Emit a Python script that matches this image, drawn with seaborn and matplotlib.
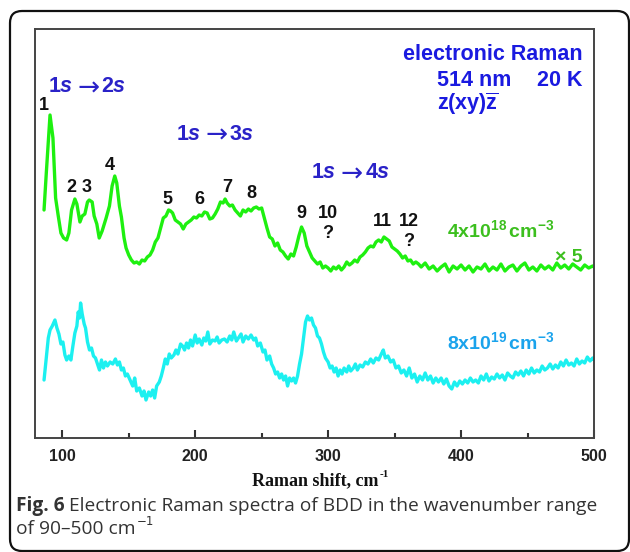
import matplotlib
matplotlib.use('Agg')
import matplotlib.pyplot as plt
import seaborn as sns
import pandas as pd
from matplotlib.patches import FancyBboxPatch
from matplotlib.transforms import IdentityTransform

# ---------------- data (intensity in arbitrary units) ----------------
green_x = [86.3, 88, 90.8, 93, 95, 97, 99, 101, 103.3, 105, 107, 109.5, 111, 113.3, 115, 117, 119, 120.3,
           122.5, 124, 126, 127.8, 130, 133, 135.5, 137.5, 139.5, 141, 143, 144.5, 146.5, 148, 150, 152,
           154, 156, 158, 160, 162, 164, 166, 168, 170, 172, 174, 176, 178, 180, 181.5, 183, 185, 187,
           189, 191, 193, 195, 197, 199, 201, 203, 205, 207, 209, 211, 213, 215, 217, 219, 221, 222.5,
           224, 226, 228, 230, 232, 234, 236, 238, 240, 242, 244, 246, 248, 250, 252, 254, 256, 258,
           260, 262, 264, 266, 268, 270, 272, 274, 276, 278, 280, 282, 284, 286, 288, 290, 292, 294,
           296, 298, 300, 302, 304, 306, 308, 310, 312, 314, 316, 318, 320, 322, 324, 326, 328, 330,
           332, 334, 336, 338, 340, 342, 344, 346, 348, 350, 352, 354, 356, 358, 360, 362, 364, 366,
           368, 370, 373, 376, 379, 382, 385, 388, 391, 394, 397, 400, 403, 406, 409, 412, 415, 418,
           421, 424, 427, 430, 433, 436, 439, 442, 445, 448, 451, 454, 457, 460, 463, 466, 469, 472,
           475, 478, 481, 484, 487, 490, 493, 496, 499, 500]
green_y = [228, 265, 323, 300, 240, 222, 205, 200, 198, 205, 228, 239, 234, 216, 222, 224, 236, 238,
           236, 222, 214, 200, 207, 220, 232, 252, 262, 255, 232, 221, 200, 190, 183, 178,
           175, 176, 174, 178, 177, 181, 183, 188, 196, 200, 210, 220, 222, 228, 227, 225, 218, 216,
           214, 209, 214, 216, 218, 221, 220, 223, 222, 226, 225, 219, 220, 224, 229, 236, 235, 239,
           235, 232, 233, 228, 225, 222, 228, 226, 229, 227, 230, 231, 229, 230, 220, 210, 201, 199,
           192, 195, 188, 186, 182, 179, 184, 182, 191, 202, 211, 205, 192, 186, 180, 177, 174, 176,
           170, 172, 170, 167, 171, 169, 172, 168, 171, 176, 173, 175, 178, 176, 181, 183, 186, 190,
           192, 191, 196, 198, 196, 201, 199, 197, 191, 189, 187, 184, 180, 182, 177, 178, 174, 176,
           174, 171, 175, 169, 172, 167, 171, 174, 166, 172, 169, 173, 168, 172, 166, 171, 169, 174,
           167, 171, 168, 174, 167, 171, 173, 167, 172, 175, 168, 171, 167, 173, 169, 172, 168, 175,
           170, 173, 169, 174, 171, 168, 173, 170, 172, 171]

cyan_x = [86.3, 88, 89.5, 90.8, 92.5, 94.5, 96, 97.5, 99, 100.5, 102, 103.3, 105, 106.5, 108, 109.5,
          111, 112, 113, 113.8, 115, 116.5, 117.5, 119, 120.5, 122, 123.5, 125, 126.5, 128, 129.5, 131,
          132.5, 134, 136, 138, 140, 141.5, 143, 144.5, 146, 147.5, 149, 151, 153, 154.5, 156, 158,
          160, 161.5, 163, 165, 166.5, 168, 169.5, 171, 173, 174.5, 176, 177.5, 179, 180.5, 182, 184,
          185.5, 187, 189, 190.5, 192, 193.5, 195, 196.5, 198, 200, 201.5, 203, 205, 206.5, 208, 209.5,
          211, 213, 215, 216.5, 218, 220, 222, 224, 226, 227.5, 229, 231, 233, 234.5, 236, 238, 240,
          242, 244, 245.5, 247, 249, 251, 252.5, 254, 256, 257.5, 259, 260.5, 262, 263.5, 265, 266.5,
          268, 269.5, 271, 272.5, 274, 275.5, 277, 278.5, 280, 281.5, 283, 284.5, 286, 287.5, 289,
          290.5, 292, 293.5, 295, 296.5, 298, 300, 301.5, 303, 304.5, 306, 307.5, 309, 310.5, 312,
          314, 315.5, 317, 319, 320.5, 322, 324, 326, 328, 330, 332, 334, 336, 338, 340, 341.5, 343,
          345, 347, 349, 351, 353, 355, 357, 359, 361, 363, 365, 367, 369, 371, 373, 375, 377, 379,
          381, 383, 385, 387, 389, 391, 393, 395, 397, 399, 401, 403, 405, 407, 409, 411, 413, 415,
          417, 419, 421, 423, 425, 427, 429, 431, 433, 435, 437, 439, 441, 443, 445, 447, 449, 451,
          453, 455, 457, 459, 461, 463, 465, 467, 469, 471, 473, 475, 477, 479, 481, 483, 485, 487,
          489, 491, 493, 495, 497, 499, 500]
cyan_y = [58, 80, 100, 108, 112, 118, 110, 104, 94, 96, 83, 78, 82, 78, 92, 105,
          112, 126, 120, 135, 124, 114, 110, 96, 88, 90, 82, 80, 74, 68, 78, 70,
          76, 72, 76, 74, 79, 73, 76, 68, 70, 62, 64, 58, 52, 60, 47, 50,
          42, 47, 38, 46, 42, 48, 40, 52, 56, 62, 70, 79, 74, 84, 80, 83,
          88, 84, 94, 92, 88, 95, 90, 98, 92, 103, 95, 99, 93, 100, 97, 106,
          94, 98, 97, 101, 95, 98, 99, 96, 102, 98, 106, 97, 101, 104, 96, 102, 99,
          103, 98, 100, 92, 95, 86, 88, 78, 82, 74, 70, 64, 66, 60, 64, 58,
          62, 52, 60, 57, 60, 55, 62, 74, 84, 100, 116, 122, 118, 120, 113,
          110, 102, 100, 94, 86, 80, 76, 70, 72, 66, 70, 62, 68, 64, 70,
          66, 72, 67, 70, 74, 68, 73, 71, 76, 74, 79, 75, 80, 78, 84, 88, 80,
          82, 76, 78, 70, 72, 65, 68, 62, 70, 60, 64, 56, 62, 58, 65, 58, 62, 55,
          60, 56, 60, 54, 59, 52, 49, 56, 52, 57, 54, 58, 55, 60, 56, 58, 55, 62,
          58, 64, 57, 61, 59, 64, 60, 63, 58, 65, 62, 60, 66, 63, 67, 62, 68, 64,
          70, 65, 68, 66, 72, 68, 70, 74, 69, 73, 70, 76, 72, 78, 73, 75, 72, 79,
          74, 77, 75, 81, 77, 80, 78]

x_ticks = [100, 200, 300, 400, 500]
x_minor = [150, 250, 350, 450]

peak_labels = ['1', '2', '3', '4', '5', '6', '7', '8', '9', '10', '11', '12']
peak_x = [86.2, 106.5, 118.6, 135.9, 179.4, 202.8, 223.8, 242.6, 280.2, 299.8, 341.1, 360.7]
peak_y = [333, 251, 251, 273, 238, 238, 251, 245, 225, 224, 216, 216]

# ---------------- style ----------------
sns.set_theme(style='white')
plt.rcParams['font.family'] = ['Liberation Sans', 'DejaVu Sans']
plt.rcParams['mathtext.fontset'] = 'custom'
plt.rcParams['mathtext.rm'] = 'Liberation Sans'
plt.rcParams['mathtext.bf'] = 'Liberation Sans:bold'
plt.rcParams['mathtext.it'] = 'Liberation Sans:italic'
plt.rcParams['mathtext.bfit'] = 'Liberation Sans:italic:bold'

W, H = 630, 552
fig = plt.figure(figsize=(W / 100, H / 100), dpi=100)
fig.patch.set_facecolor('white')
ax = fig.add_axes([35 / W, 1 - 438 / H, (594 - 35) / W, (438 - 29) / H])

df_g = pd.DataFrame({'shift': green_x, 'intensity': green_y})
df_c = pd.DataFrame({'shift': cyan_x, 'intensity': cyan_y})
sns.lineplot(data=df_g, x='shift', y='intensity', ax=ax, color='#1ef010', linewidth=2.4,
             estimator=None, sort=False)
sns.lineplot(data=df_c, x='shift', y='intensity', ax=ax, color='#1cf0f0', linewidth=2.4,
             estimator=None, sort=False)

ax.set_xlim(79.5, 500)
ax.set_ylim(0, 409)
ax.set_yticks([])
ax.set_xticks(x_ticks)
ax.set_xticks(x_minor, minor=True)
ax.set_xticklabels([str(t) for t in x_ticks], fontweight='bold', fontsize=11.5, color='#222222')
ax.tick_params(axis='x', which='major', direction='in', length=6, width=1.5, color='#333333', pad=8,
               bottom=True)
ax.tick_params(axis='x', which='minor', direction='in', length=3.5, width=1.5, color='#333333',
               bottom=True)
ax.set_xlabel('')
ax.set_ylabel('')
for s in ax.spines.values():
    s.set_color('#444444')
    s.set_linewidth(1.4)

renderer = fig.canvas.get_renderer()

# ---------------- annotations ----------------
blue = '#1a1ae0'
tblue = '#2a22c8'
ax.text(491.5, 383, 'electronic Raman', ha='right', va='center', fontsize=15.5, fontweight='bold', color=blue)
ax.text(491.5, 358, '20 K', ha='right', va='center', fontsize=15.5, fontweight='bold', color=blue)
ax.text(381.7, 358, '514 nm', ha='left', va='center', fontsize=15.5, fontweight='bold', color=blue)
ax.text(381.7, 334, r'$\mathbf{z(xy)}\overline{\mathbf{z}}$', ha='left', va='center', fontsize=15.5, color=blue)

inv = ax.transData.inverted()
for lbl, tx, ty in [('2', 89.2, 351), ('3', 185.5, 304), ('4', 287.4, 265)]:
    t1 = ax.text(tx, ty, r'$\mathbf{1}\mathbfit{s}$', ha='left', va='center', fontsize=15.5, color=tblue)
    e1 = t1.get_window_extent(renderer=renderer)
    ax_x = inv.transform((e1.x1 + 4, 0))[0]
    t2 = ax.text(ax_x, ty - 1.5, '\u2192', ha='left', va='center', fontsize=19, color=tblue,
                 family=['DejaVu Sans'])
    e2 = t2.get_window_extent(renderer=renderer)
    ax_x2 = inv.transform((e2.x1 + 2, 0))[0]
    ax.text(ax_x2, ty, r'$\mathbf{' + lbl + r'}\mathbfit{s}$', ha='left', va='center', fontsize=15.5, color=tblue)

for lab, px, py in zip(peak_labels, peak_x, peak_y):
    ax.text(px, py, lab, ha='center', va='center', fontsize=13, fontweight='bold', color='#111111')
ax.text(299.8, 205, '?', ha='center', va='center', fontsize=13, fontweight='bold', color='#111111')
ax.text(360.7, 196, '?', ha='center', va='center', fontsize=13, fontweight='bold', color='#111111')

ax.text(389.2, 201, r'$\mathbf{4x10^{18}\,cm^{-3}}$', ha='left', va='baseline', fontsize=14, color='#3cbf1e')
ax.text(491.5, 176, '\u00d7 5', ha='right', va='baseline', fontsize=14, fontweight='bold', color='#3cbf1e')
ax.text(389.2, 89, r'$\mathbf{8x10^{19}\,cm^{-3}}$', ha='left', va='baseline', fontsize=14, color='#1aa3ec')

# ---------------- x label (serif bold) ----------------
xl = fig.text(315.5 / W, (H - 485) / H, 'Raman shift, cm', ha='center', va='baseline',
              family=['Liberation Serif', 'DejaVu Serif'], fontweight='bold', fontsize=13, color='#111111')
bb = xl.get_window_extent(renderer=renderer)
fig.text((bb.x1 + 1) / W, (H - 485 + 8) / H, '-1', ha='left', va='baseline',
         family=['Liberation Serif', 'DejaVu Serif'], fontweight='bold', fontsize=8, color='#111111')

# ---------------- caption ----------------
cap_font = ['Open Sans', 'DejaVu Sans']
cap_size = 13.8
c1 = fig.text(16 / W, (H - 511) / H, 'Fig. 6', ha='left', va='baseline', family=cap_font,
              fontweight='bold', fontsize=cap_size, color='#333333')
bb = c1.get_window_extent(renderer=renderer)
fig.text((bb.x1 + 4) / W, (H - 511) / H, 'Electronic Raman spectra of BDD in the wavenumber range',
         ha='left', va='baseline', family=cap_font, fontsize=cap_size, color='#333333')
c3 = fig.text(16 / W, (H - 534) / H, 'of 90\u2013500 cm', ha='left', va='baseline', family=cap_font,
              fontsize=cap_size, color='#333333')
bb = c3.get_window_extent(renderer=renderer)
fig.text((bb.x1 + 1) / W, (H - 534 + 9) / H, '\u22121', ha='left', va='baseline',
         family=['DejaVu Sans'], fontsize=8.5, color='#333333')

# ---------------- rounded frame ----------------
frame = FancyBboxPatch((10, 1), 619, 540, boxstyle='round,pad=0,rounding_size=12',
                       transform=IdentityTransform(), facecolor='none', edgecolor='#111111',
                       linewidth=1.6, zorder=10)
fig.patches.append(frame)

fig.savefig('out.png', dpi=100, facecolor='white')
